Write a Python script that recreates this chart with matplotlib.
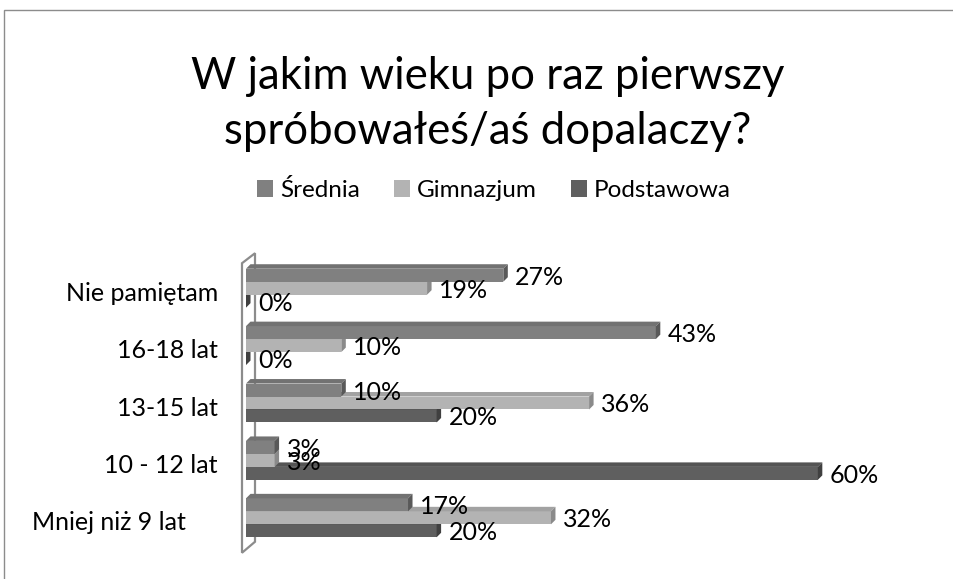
import matplotlib
matplotlib.use("Agg")
import matplotlib.pyplot as plt
from matplotlib.patches import Polygon, Rectangle
from matplotlib.transforms import ScaledTranslation

plt.rcParams['font.family'] = ['Lato', 'DejaVu Sans']

categories = ["Mniej niż 9 lat     ", "10 - 12 lat", "13-15 lat", "16-18 lat", "Nie pamiętam"]
series_names = ["Średnia", "Gimnazjum", "Podstawowa"]
srednia = [17, 3, 10, 43, 27]
gimnazjum = [32, 3, 36, 10, 19]
podstawowa = [20, 60, 20, 0, 0]
series_values = [srednia, gimnazjum, podstawowa]

front_colors = ["#808080", "#b3b3b3", "#5f5f5f"]
top_colors = ["#727272", "#a2a2a2", "#545454"]
side_colors = ["#595959", "#8a8a8a", "#404040"]

W, H, DPI = 954, 579, 100
fig = plt.figure(figsize=(W / DPI, H / DPI), dpi=DPI)
fig.patch.set_facecolor("white")

# outer chart frame (extends past right/bottom edge)
fig.add_artist(Rectangle((4 / W, -0.1), 1.2, (H - 10) / H + 0.1, transform=fig.transFigure,
                         fill=False, edgecolor="#8c8c8c", linewidth=1.0))

ax_left_px, ax_w_px = 246, 629
ax_bot_px, ax_h_px = 21, 310
ax = fig.add_axes([ax_left_px / W, ax_bot_px / H, ax_w_px / W, ax_h_px / H])
xmax = 66.0
ax.set_xlim(0, xmax)
ax.set_ylim(-0.7, 4.7)
ax.axis("off")

px_x = xmax / ax_w_px          # data units per pixel (x)
px_y = 5.4 / ax_h_px           # data units per pixel (y)

# back wall (3D panel behind the bars)
fx, bx = -4 * px_x, 9 * px_x
wall = Polygon([(fx, -0.609), (fx, 4.435), (bx, 4.609), (bx, -0.417)], closed=True,
               facecolor="white", edgecolor="#8c8c8c", linewidth=1.6, clip_on=False, zorder=1)
ax.add_patch(wall)

bar_h = 0.226
offsets = [bar_h, 0.0, -bar_h]
ddx, ddy = 4.5 * px_x, 4.5 * px_y
label_fs = 18

for s_idx in [2, 1, 0]:
    vals = series_values[s_idx]
    z = 3 + (2 - s_idx)
    for c_idx, v in enumerate(vals):
        yc = c_idx + offsets[s_idx]
        bot, top = yc - bar_h / 2, yc + bar_h / 2
        ax.barh(yc, v, height=bar_h, color=front_colors[s_idx], zorder=z, linewidth=0)
        ax.add_patch(Polygon([(0, top), (v, top), (v + ddx, top + ddy), (ddx, top + ddy)],
                             closed=True, facecolor=top_colors[s_idx], linewidth=0, zorder=z))
        ax.add_patch(Polygon([(v, bot), (v, top), (v + ddx, top + ddy), (v + ddx, bot + ddy)],
                             closed=True, facecolor=side_colors[s_idx], linewidth=0, zorder=z))
        lab_off = ScaledTranslation(12 / DPI, -2 / DPI, fig.dpi_scale_trans)
        ax.text(v, yc, f"{v}%", ha="left", va="center", fontsize=label_fs, color="black",
                transform=ax.transData + lab_off, zorder=10, clip_on=False)

# category labels
cat_off = ScaledTranslation(-28 / DPI, -5 / DPI, fig.dpi_scale_trans)
for c_idx, name in enumerate(categories):
    ax.text(0, c_idx, name, ha="right", va="center", fontsize=label_fs, color="black",
            transform=ax.transData + cat_off, clip_on=False)

# title
fig.text(488 / W, 1 - 104 / H, "W jakim wieku po raz pierwszy\nspróbowałeś/aś dopalaczy?",
         ha="center", va="center", fontsize=31.5, linespacing=1.45, color="black")

# legend
handles = [Rectangle((0, 0), 1, 1, facecolor=c, edgecolor="none") for c in front_colors]
fig.legend(handles, series_names, loc="center", bbox_to_anchor=(494 / W, 1 - 190 / H),
           ncol=3, frameon=False, fontsize=17.5, handlelength=0.65, handleheight=0.65,
           handletextpad=0.3, columnspacing=1.4)

fig.savefig("out.png", dpi=DPI, facecolor="white")
